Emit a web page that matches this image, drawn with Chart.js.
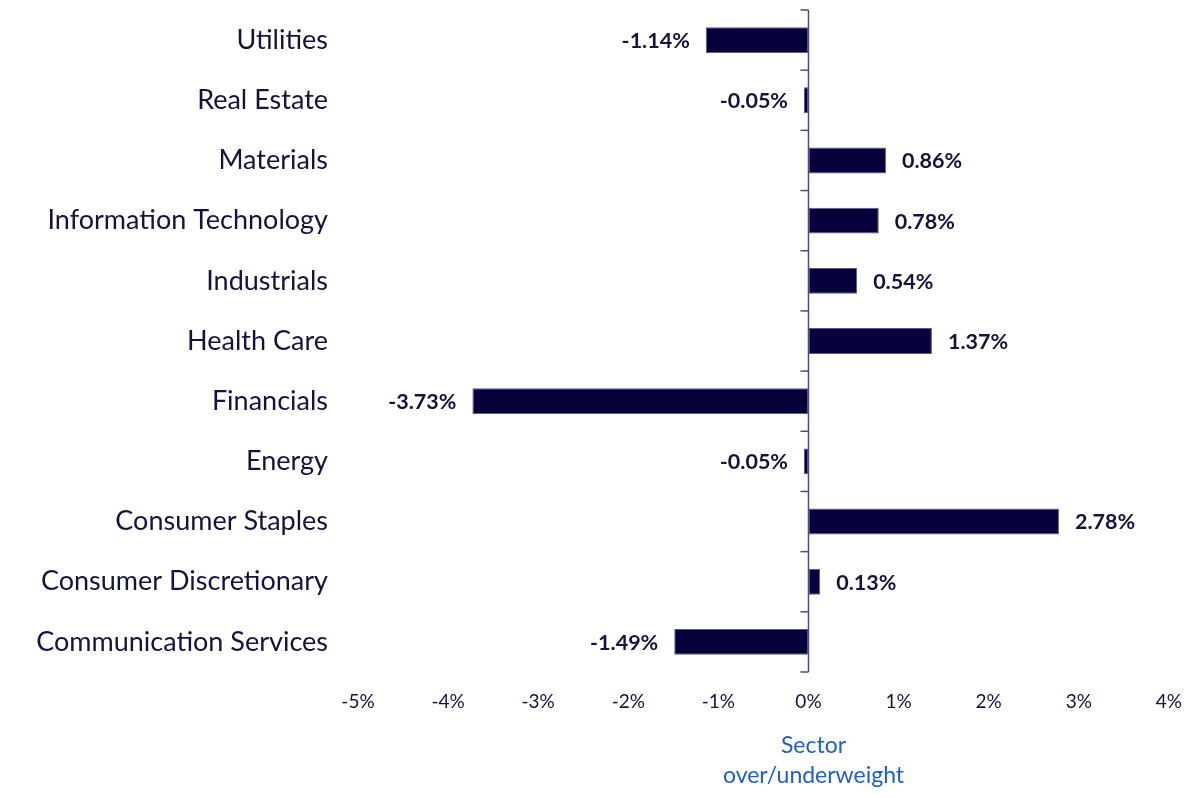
<!DOCTYPE html>
<html>
<head>
<meta charset="utf-8">
<script src="https://cdn.jsdelivr.net/npm/chart.js@4.4.0/dist/chart.umd.min.js"></script>
<style>
  html, body { margin: 0; padding: 0; background: #ffffff; }
  #wrap { width: 1200px; height: 798px; position: relative; }
</style>
</head>
<body>
<div id="wrap"><canvas id="c" width="1200" height="798"></canvas></div>
<script>
// ---- data ----
const categories = [
  "Utilities",
  "Real Estate",
  "Materials",
  "Information Technology",
  "Industrials",
  "Health Care",
  "Financials",
  "Energy",
  "Consumer Staples",
  "Consumer Discretionary",
  "Communication Services"
];
const overUnderweight = [-1.14, -0.05, 0.86, 0.78, 0.54, 1.37, -3.73, -0.05, 2.78, 0.13, -1.49];
const xTickMin = -5;
const xTickMax = 4;
const xTickStep = 1;
const axisTitleLines = ["Sector", "over/underweight"];

// ---- styles ----
const FONT = "Lato, 'Open Sans', 'DejaVu Sans', sans-serif";
const BAR_COLOR = "#06003b";
const TEXT_COLOR = "#14123f";
const AXIS_COLOR = "#4d4c7a";
const TITLE_COLOR = "#1f5fc8";

const overlayPlugin = {
  id: "overlay",
  afterDatasetsDraw(chart) {
    const ctx = chart.ctx;
    const xs = chart.scales.x;
    const ys = chart.scales.y;
    const area = chart.chartArea;
    const x0 = xs.getPixelForValue(0);
    ctx.save();
    // zero axis line
    ctx.strokeStyle = AXIS_COLOR;
    ctx.lineWidth = 1.5;
    ctx.beginPath();
    ctx.moveTo(x0, area.top);
    ctx.lineTo(x0, area.bottom);
    ctx.stroke();
    // boundary tick marks
    const n = categories.length;
    const step = (ys.getPixelForValue(n - 1) - ys.getPixelForValue(0)) / (n - 1);
    for (let i = 0; i <= n; i++) {
      const y = ys.getPixelForValue(0) - step / 2 + i * step;
      ctx.beginPath();
      ctx.moveTo(x0 - 8, y);
      ctx.lineTo(x0, y);
      ctx.stroke();
    }
    // data labels
    ctx.fillStyle = TEXT_COLOR;
    ctx.font = "bold 21.5px " + FONT;
    ctx.textBaseline = "middle";
    const meta = chart.getDatasetMeta(0);
    meta.data.forEach((bar, i) => {
      const v = overUnderweight[i];
      const txt = v.toFixed(2) + "%";
      if (v >= 0) {
        ctx.textAlign = "left";
        ctx.fillText(txt, bar.x + 16, bar.y + 1);
      } else {
        ctx.textAlign = "right";
        ctx.fillText(txt, bar.x - 16, bar.y + 1);
      }
    });
    // axis title centred under zero
    ctx.fillStyle = TITLE_COLOR;
    ctx.font = "23px " + FONT;
    ctx.textAlign = "center";
    axisTitleLines.forEach((line, i) => {
      ctx.fillText(line, x0 + 5, area.bottom + 74 + i * 30);
    });
    ctx.restore();
  }
};

new Chart(document.getElementById("c"), {
  type: "bar",
  data: {
    labels: categories,
    datasets: [{
      data: overUnderweight,
      backgroundColor: BAR_COLOR,
      borderColor: "#5c5b88",
      borderWidth: 1,
      borderSkipped: false,
      barPercentage: 0.43,
      categoryPercentage: 1.0
    }]
  },
  options: {
    indexAxis: "y",
    responsive: false,
    animation: false,
    devicePixelRatio: 1,
    layout: { padding: { top: 10, right: 30, left: 0, bottom: 0 } },
    plugins: { legend: { display: false }, tooltip: { enabled: false } },
    scales: {
      x: {
        type: "linear",
        min: xTickMin,
        max: xTickMax,
        ticks: {
          stepSize: xTickStep,
          color: TEXT_COLOR,
          font: { family: FONT, size: 19 },
          padding: 18,
          callback: (v) => v + "%"
        },
        grid: { display: false, drawTicks: false },
        border: { display: false },
        afterFit: (s) => { s.height = 126; }
      },
      y: {
        ticks: {
          color: TEXT_COLOR,
          font: { family: FONT, size: 27, lineHeight: 0.6 },
          padding: 0
        },
        grid: {
          display: true,
          drawOnChartArea: false,
          drawTicks: true,
          tickLength: 30,
          color: "rgba(0,0,0,0)"
        },
        border: { display: false },
        afterFit: (s) => { s.width = 358; }
      }
    }
  },
  plugins: [overlayPlugin]
});
</script>
</body>
</html>
